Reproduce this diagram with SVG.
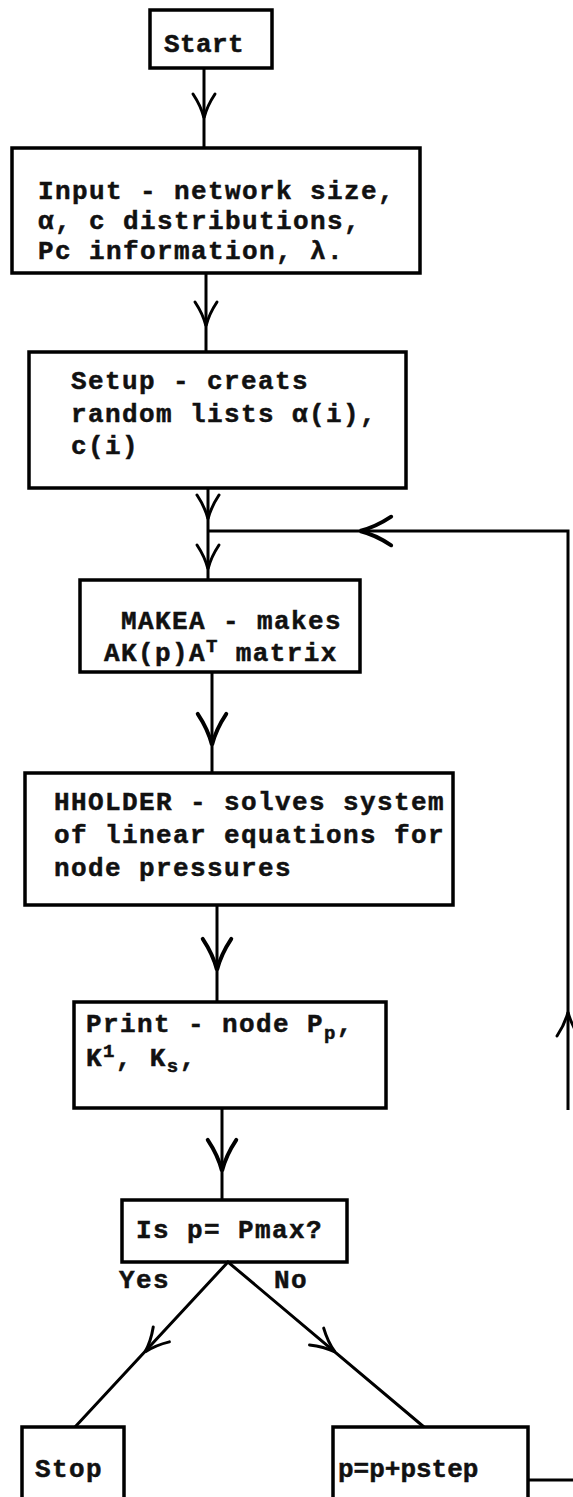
<svg xmlns="http://www.w3.org/2000/svg" width="573" height="1497" viewBox="0 0 573 1497">
<style>
.box{fill:none;stroke:#000;stroke-width:3.5}
.ln{fill:none;stroke:#000;stroke-width:3}
.ch{fill:none;stroke:#000;stroke-width:3;stroke-linecap:round}
.t{font-family:"Liberation Mono","Courier New",monospace;font-weight:bold;font-size:26px;letter-spacing:1.4px;fill:#111;stroke:#111;stroke-width:0.5}
.s{font-size:19px}
</style>
<defs>
<path id="chev" class="ch" d="M -11 -24 Q -3 -12 0 0 Q 3 -12 11 -24"/>
</defs>
<rect width="573" height="1497" fill="#fff"/>
<g id="connectors">
<path class="ln" d="M 204 68 V 148"/>
<path class="ln" d="M 206 273 V 352"/>
<path class="ln" d="M 208 488 V 580"/>
<path class="ln" d="M 212 672 V 773"/>
<path class="ln" d="M 217 905 V 1002"/>
<path class="ln" d="M 222 1108 V 1200"/>
<path class="ln" d="M 568 1110 V 531 H 208"/>
<path class="ln" d="M 528 1480 H 573"/>
<path class="ln" d="M 75 1427 L 228 1262 L 424 1427"/>
<use href="#chev" transform="translate(204,118)"/>
<use href="#chev" transform="translate(206,326)"/>
<use href="#chev" transform="translate(208,519)"/>
<use href="#chev" transform="translate(208,569)"/>
<use href="#chev" transform="translate(212,745) scale(1.3)"/>
<use href="#chev" transform="translate(217,970) scale(1.3)"/>
<use href="#chev" transform="translate(222,1171) scale(1.3)"/>
<use href="#chev" transform="translate(360,531) rotate(90) scale(1.3)"/>
<use href="#chev" transform="translate(145,1352) rotate(42.8)"/>
<use href="#chev" transform="translate(335,1352) rotate(-50)"/>
<use href="#chev" transform="translate(568,1012) rotate(180)"/>
</g>
<g id="start">
<rect class="box" x="150" y="10" width="122" height="58"/>
<text class="t" x="164" y="52" style="letter-spacing:0.4px">Start</text>
</g>
<g id="input">
<rect class="box" x="12" y="148" width="408" height="125"/>
<text class="t" x="38" y="199">Input - network size,</text>
<text class="t" x="38" y="229">α, c distributions,</text>
<text class="t" x="38" y="259">Pc information, λ.</text>
</g>
<g id="setup">
<rect class="box" x="29" y="352" width="377" height="136"/>
<text class="t" x="71" y="389">Setup - creats</text>
<text class="t" x="71" y="422">random lists α(i),</text>
<text class="t" x="71" y="454">c(i)</text>
</g>
<g id="makea">
<rect class="box" x="80" y="580" width="280" height="92"/>
<text class="t" x="121" y="629">MAKEA - makes</text>
<text class="t" x="104" y="661">AK(p)A<tspan class="s" dy="-9">T</tspan><tspan dy="9"> matrix</tspan></text>
</g>
<g id="hholder">
<rect class="box" x="25" y="773" width="428" height="132"/>
<text class="t" x="54" y="810">HHOLDER - solves system</text>
<text class="t" x="54" y="843">of linear equations for</text>
<text class="t" x="54" y="876">node pressures</text>
</g>
<g id="print">
<rect class="box" x="74" y="1002" width="312" height="106"/>
<text class="t" x="86" y="1032">Print  - node P<tspan class="s" dy="7">p</tspan><tspan dy="-7">,</tspan></text>
<text class="t" x="86" y="1066">K<tspan class="s" dy="-9">1</tspan><tspan dy="9">, K</tspan><tspan class="s" dy="6">s</tspan><tspan dy="-6">,</tspan></text>
</g>
<g id="decision">
<rect class="box" x="122" y="1200" width="225" height="62"/>
<text class="t" x="136" y="1238">Is p= Pmax?</text>
<text class="t" x="119" y="1288">Yes</text>
<text class="t" x="274" y="1288">No</text>
</g>
<g id="stop">
<rect class="box" x="22" y="1427" width="102" height="80"/>
<text class="t" x="35" y="1477">Stop</text>
</g>
<g id="pstep">
<rect class="box" x="333" y="1427" width="195" height="80"/>
<text class="t" x="338" y="1477" style="letter-spacing:0px">p=p+pstep</text>
</g>
</svg>
